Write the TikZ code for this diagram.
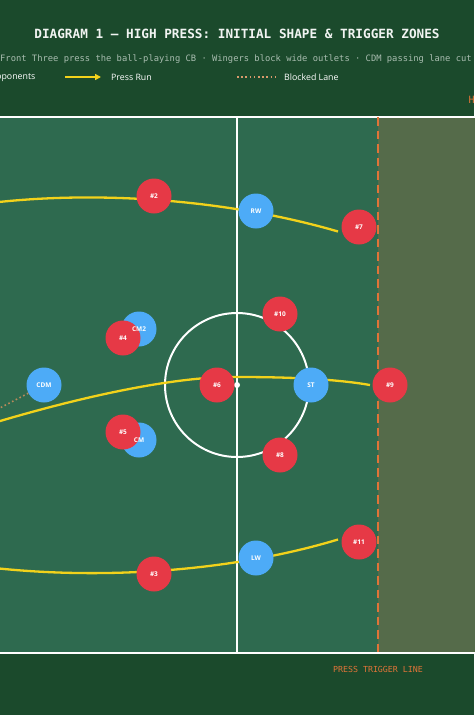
\documentclass[tikz,border=0pt]{standalone}
\usepackage{fontspec}
\setmainfont{Open Sans}
\newfontfamily\monof{DejaVu Sans Mono}
\usetikzlibrary{arrows.meta}
\definecolor{bgc}{HTML}{1B4A2C}
\definecolor{pitchc}{HTML}{2E6A4F}
\definecolor{zonec}{HTML}{556B4A}
\definecolor{redp}{HTML}{E63946}
\definecolor{bluep}{HTML}{4DABF7}
\definecolor{yel}{HTML}{F2D21B}
\definecolor{orng}{HTML}{E07438}
\definecolor{lanec}{HTML}{B98A5A}
\definecolor{lanelg}{HTML}{D99A6C}
\definecolor{subc}{HTML}{A9BDB0}
\pgfdeclarelayer{bg}
\pgfdeclarelayer{circ}
\pgfsetlayers{bg,circ,main}
\tikzset{
  player/.style={circle,minimum size=35pt,inner sep=0pt,text=white,font=\bfseries\fontsize{6.5}{7}\selectfont},
  press/.style={draw=yel,line width=2.3pt},
  lane/.style={draw=lanec,line width=1.6pt,dash pattern=on 1.6pt off 2.6pt},
  pline/.style={draw=white,line width=2pt},
}
\begin{document}
\begin{tikzpicture}[x=1pt,y=-1pt]
\useasboundingbox (0,0) rectangle (474,715);
\clip (0,0) rectangle (474,715);
\begin{pgfonlayer}{bg}
\fill[bgc] (0,0) rectangle (474,715);
\fill[pitchc] (-10,117) rectangle (484,653);
\fill[zonec] (378,118) rectangle (484,652);
\draw[pline] (-10,117) -- (484,117);
\draw[pline] (-10,653) -- (484,653);
\draw[pline] (237,117) -- (237,653);
\draw[pline] (237,385) circle[radius=72];
\fill[white] (237,385) circle[radius=3];
\draw[orng,line width=2.5pt,dash pattern=on 8.5pt off 5pt] (378,117) -- (378,653);
\end{pgfonlayer}

% titles
\node[font=\monof\bfseries\fontsize{12.7}{14}\selectfont,text=white!94!bgc] (title) at (237,34) {DIAGRAM 1 — HIGH PRESS: INITIAL SHAPE \& TRIGGER ZONES};
\node[font=\monof\fontsize{8.8}{10}\selectfont,text=subc,anchor=west,inner sep=0pt] (sub) at (0,59) {Front Three press the ball-playing CB · Wingers block wide outlets · CDM passing lane cut};

% legend
\node[font=\fontsize{8.8}{10}\selectfont,text=white,anchor=east,inner sep=0pt] (lgopp) at (35.5,77) {Opponents};
\coordinate (la1) at (65,77); \coordinate (la2) at (101,77);
\draw[yel,line width=2pt,-{Triangle[length=6pt,width=6pt]}] (la1) -- (la2);
\node[font=\fontsize{8.8}{10}\selectfont,text=white,anchor=west,inner sep=0pt] (lgpress) at (111,77) {Press Run};
\coordinate (lb1) at (237,77); \coordinate (lb2) at (277,77);
\draw[lane,draw=lanelg] (lb1) -- (lb2);
\node[font=\fontsize{8.8}{10}\selectfont,text=white,anchor=west,inner sep=0pt] (lgblock) at (284,77) {Blocked Lane};
\node[font=\monof\fontsize{10}{12}\selectfont,text=orng,anchor=west,inner sep=0pt] (zonelbl) at (468.5,100) {HIGH};
\node[font=\monof\fontsize{8.3}{10}\selectfont,text=orng] (trig) at (378,669) {PRESS TRIGGER LINE};

% players (labels on main layer, discs below)
\foreach \nm/\x/\y/\t in {RW/256/211/RW, CM2/139/329/CM2, CDM/44/385/CDM, ST/311/385/ST, CM/139/440/CM, LW/256/558/LW}{
  \node[player] (\nm) at (\x,\y) {\t};
  \begin{pgfonlayer}{circ}\fill[bluep] (\nm.center) circle[radius=17.5];\end{pgfonlayer}
}
\foreach \nm/\x/\y/\t in {n2/154/196/2, n7/359/227/7, n10/280/314/10, n4/123/338/4, n6/217/385/6, n9/390/385/9, n5/123/432/5, n8/280/455/8, n11/359/542/11, n3/154/574/3}{
  \node[player] (\nm) at (\x,\y) {\#\t};
  \begin{pgfonlayer}{circ}\fill[redp] (\nm.center) circle[radius=17.5];\end{pgfonlayer}
}

% press runs and lane (under players)
\coordinate (st1) at (-10,203);  \coordinate (e7) at (338,231.5);
\coordinate (st2) at (-10,424);  \coordinate (mid) at (237,377); \coordinate (e9) at (370,385);
\coordinate (st3) at (-10,567.5); \coordinate (e11) at (338,539.5);
\coordinate (laneEnd) at (-25,421);
\begin{pgfonlayer}{bg}
\draw[press] (st1) .. controls (100,190) and (230,200) .. (e7);
\draw[press] (st2) .. controls (120,385) and (200,376) .. (mid) .. controls (290,377) and (335,379) .. (e9);
\draw[press] (st3) .. controls (100,580) and (230,572) .. (e11);
\draw[lane] (CDM) -- (laneEnd);
\end{pgfonlayer}
\end{tikzpicture}
\end{document}
